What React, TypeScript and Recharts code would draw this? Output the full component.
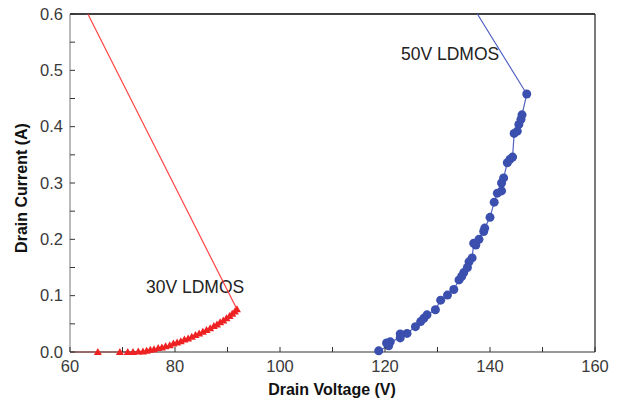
import { CartesianGrid, ComposedChart, Line, ReferenceLine, Scatter, XAxis, YAxis } from 'recharts';

// 30V LDMOS measured points (V, A)
const RED_V = [
  65.3, 69.5, 71.0, 72.0, 73.0, 73.9, 74.6, 75.3, 76.0, 76.8, 77.5, 78.2, 79.0, 79.7, 80.4, 81.1, 81.8,
  82.5, 83.2, 83.9, 84.6, 85.3, 86.0, 86.7, 87.4, 88.0, 88.6, 89.2, 89.8, 90.4, 90.9, 91.4, 91.8,
];
const RED_I = [
  0, 0, 0, 0, 0.001, 0.001, 0.002, 0.004, 0.005, 0.007, 0.008, 0.01, 0.012, 0.015, 0.017, 0.019, 0.022,
  0.024, 0.027, 0.03, 0.033, 0.036, 0.039, 0.042, 0.046, 0.049, 0.053, 0.056, 0.06, 0.064, 0.068, 0.072,
  0.076,
];
// load line of the 30V device
const RED_LINE_START = { v: 63.4, i: 0.6 };
const RED_LINE_END = { v: 60, i: 0 };

// 50V LDMOS measured points (V, A)
const BLUE_V = [
  147.0, 146.1, 145.9, 145.5, 145.2, 144.6, 144.3, 143.8, 143.3, 142.6, 142.2, 142.2, 141.4, 140.8,
  140.0, 139.0, 138.8, 137.9, 137.3, 136.9, 136.6, 136.0, 135.7, 135.0, 134.6, 134.1, 133.1, 131.9,
  130.6, 129.6, 128.0, 127.4, 126.8, 125.8, 124.2, 122.9, 122.9, 121.0, 120.3, 120.7, 118.8,
];
const BLUE_I = [
  0.458, 0.421, 0.413, 0.404, 0.392, 0.388, 0.346, 0.342, 0.336, 0.309, 0.3, 0.286, 0.282, 0.266,
  0.239, 0.22, 0.214, 0.2, 0.19, 0.193, 0.167, 0.16, 0.15, 0.141, 0.134, 0.128, 0.111, 0.101, 0.092,
  0.075, 0.066, 0.06, 0.054, 0.045, 0.033, 0.032, 0.025, 0.018, 0.016, 0.011, 0.002,
];
const BLUE_LINE_START = { v: 137.6, i: 0.6 };

const X_TICKS = [60, 70, 80, 90, 100, 110, 120, 130, 140, 150, 160];
const Y_TICKS = [0, 0.05, 0.1, 0.15, 0.2, 0.25, 0.3, 0.35, 0.4, 0.45, 0.5, 0.55, 0.6];

const FONT = '"Liberation Sans", Arial, sans-serif';

const redPts = RED_V.map((v, k) => ({ v, i: RED_I[k] }));
const redLine = [RED_LINE_START, ...[...redPts].reverse(), RED_LINE_END];
const bluePts = BLUE_V.map((v, k) => ({ v, i: BLUE_I[k] }));
const blueLine = [BLUE_LINE_START, ...bluePts];

const XTick = ({ x, y, payload }: any) => {
  const v = payload.value;
  return (
    <g>
      <line x1={x} x2={x} y1={y} y2={y - 5} stroke="#333" />
      {v % 20 === 0 && (
        <text x={x} y={y + 8} dy="0.71em" textAnchor="middle" fontSize={16.5} fill="#3a3a3a" fontFamily={FONT}>
          {v}
        </text>
      )}
    </g>
  );
};

const YTick = ({ x, y, payload }: any) => {
  const v = payload.value;
  const major = Math.round(v * 100) % 10 === 0;
  return (
    <g>
      <line x1={x} x2={x + 5} y1={y} y2={y} stroke="#333" />
      {major && (
        <text x={x - 7} y={y} dy="0.35em" textAnchor="end" fontSize={16.5} fill="#3a3a3a" fontFamily={FONT}>
          {v.toFixed(1)}
        </text>
      )}
    </g>
  );
};

const Triangle = ({ cx, cy }: any) => (
  <path d={`M${cx},${cy - 4} L${cx + 4},${cy + 3} L${cx - 4},${cy + 3} Z`} fill="#ee2222" />
);

const Dot = ({ cx, cy }: any) => <circle cx={cx} cy={cy} r={4.5} fill="#3a4fae" />;

export default function App() {
  return (
    <div style={{ position: 'absolute', left: 0, top: 0, background: '#fff', fontFamily: FONT }}>
      <ComposedChart width={626} height={403} margin={{ top: 14, right: 31, bottom: 0, left: 0 }}>
        <CartesianGrid stroke="none" />
        <XAxis
          dataKey="v"
          type="number"
          domain={[60, 160]}
          ticks={X_TICKS}
          interval={0}
          tickSize={0}
          tickMargin={0}
          tickLine={false}
          tick={<XTick />}
          height={51}
          axisLine={{ stroke: '#333' }}
          label={{
            content: () => (
              <text x={332} y={395} textAnchor="middle" fontSize={16} fontWeight="bold" fill="#111" fontFamily={FONT}>
                Drain Voltage (V)
              </text>
            ),
          }}
        />
        <YAxis
          dataKey="i"
          type="number"
          domain={[0, 0.6]}
          ticks={Y_TICKS}
          interval={0}
          tickSize={0}
          tickMargin={0}
          tickLine={false}
          tick={<YTick />}
          width={70}
          axisLine={{ stroke: '#777' }}
          label={{
            content: () => (
              <text
                x={0}
                y={0}
                transform="translate(27,188) rotate(-90)"
                textAnchor="middle"
                fontSize={16}
                fontWeight="bold"
                fill="#111"
                fontFamily={FONT}
              >
                Drain Current (A)
              </text>
            ),
          }}
        />
        <ReferenceLine y={0.6} stroke="#000" strokeWidth={1.5} />
        <ReferenceLine x={160} stroke="#222" strokeWidth={1.2} />
        <Line
          data={redLine}
          dataKey="i"
          type="linear"
          stroke="#ff4444"
          strokeWidth={1.2}
          dot={false}
          isAnimationActive={false}
        />
        <Scatter data={redPts} dataKey="i" shape={<Triangle />} isAnimationActive={false} />
        <Line
          data={blueLine}
          dataKey="i"
          type="linear"
          stroke="#5262c0"
          strokeWidth={1.2}
          dot={false}
          isAnimationActive={false}
        />
        <Scatter data={bluePts} dataKey="i" shape={<Dot />} isAnimationActive={false} />
        <text x={146} y={287} dy="0.35em" fontSize={17.5} fill="#222" fontFamily={FONT}>
          30V LDMOS
        </text>
        <text x={401} y={54} dy="0.35em" fontSize={17.5} fill="#222" fontFamily={FONT}>
          50V LDMOS
        </text>
      </ComposedChart>
    </div>
  );
}
